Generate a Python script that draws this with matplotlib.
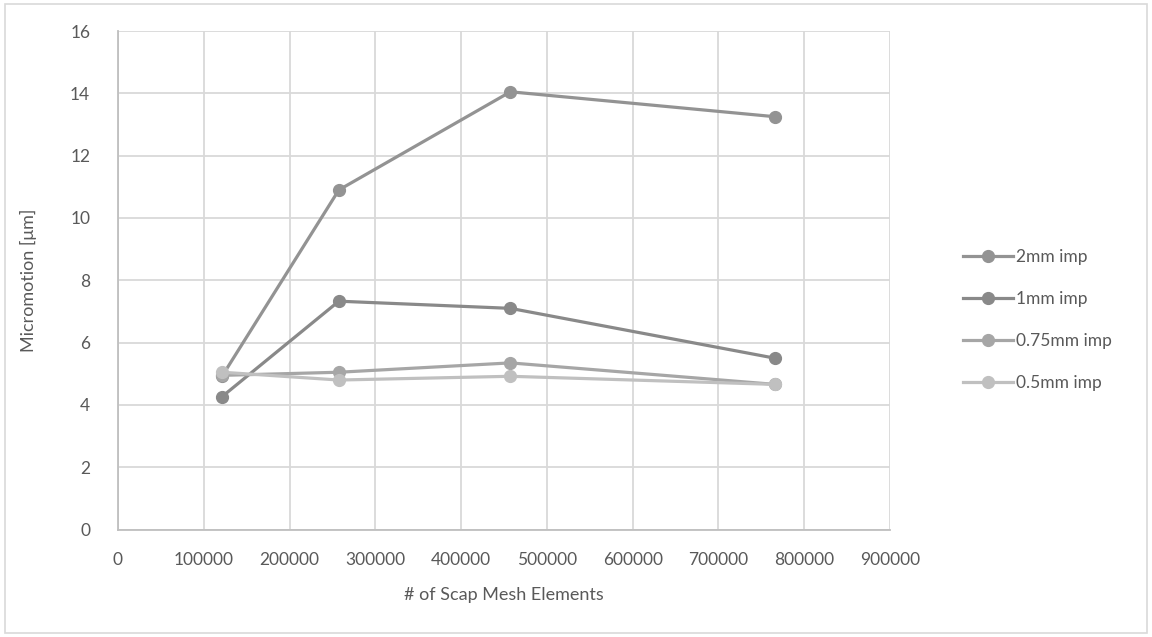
import matplotlib
matplotlib.use("Agg")
import matplotlib.pyplot as plt
from matplotlib.patches import Rectangle

# ---- data --------------------------------------------------------------------
elements = [121500, 257500, 457500, 766000]
mm2 = [4.93, 10.90, 14.05, 13.25]
mm1 = [4.27, 7.33, 7.10, 5.50]
mm075 = [4.95, 5.05, 5.35, 4.66]
mm05 = [5.05, 4.80, 4.92, 4.66]

series = [("2mm imp", mm2, "#939393"),
          ("1mm imp", mm1, "#898989"),
          ("0.75mm imp", mm075, "#a6a6a6"),
          ("0.5mm imp", mm05, "#c0c0c0")]

txt = "#595959"
grid = "#d9d9d9"
plt.rcParams["font.family"] = ["Lato", "DejaVu Sans"]

# ---- figure ------------------------------------------------------------------
fig = plt.figure(figsize=(11.52, 6.37), dpi=100)
fig.patches.append(Rectangle((0.004, 0.006), 0.992, 0.988, transform=fig.transFigure,
                             fill=False, edgecolor=grid, linewidth=1.2))
ax = fig.add_axes([0.1024, 0.1686, 0.6702, 0.7827])

for name, vals, col in series:
    ax.plot(elements, vals, color=col, lw=2.3, marker="o", ms=8.5,
            label=name, zorder=3)

ax.set_xlim(0, 900000)
ax.set_ylim(0, 16)
ax.set_xticks(range(0, 900001, 100000))
ax.set_yticks(range(0, 17, 2))
ax.grid(True, color=grid, lw=1.3)
ax.set_axisbelow(True)
for s in ["top", "right"]:
    ax.spines[s].set_visible(False)
for s in ["left", "bottom"]:
    ax.spines[s].set_color("#bfbfbf")
    ax.spines[s].set_linewidth(1.3)
ax.tick_params(length=0, labelsize=12.5, colors=txt, pad=16)
ax.tick_params(axis="y", pad=20)
ax.set_xlabel("# of Scap Mesh Elements", fontsize=13, color=txt, labelpad=14)
ax.set_ylabel("Micromotion [μm]", fontsize=13, color=txt, labelpad=24)

ax.legend(loc="center left", bbox_to_anchor=(1.085, 0.42), frameon=False,
          fontsize=12.5, labelcolor=txt, handlelength=2.9, handletextpad=0.15,
          labelspacing=1.5, borderaxespad=0)

fig.savefig("out.png", dpi=100)
